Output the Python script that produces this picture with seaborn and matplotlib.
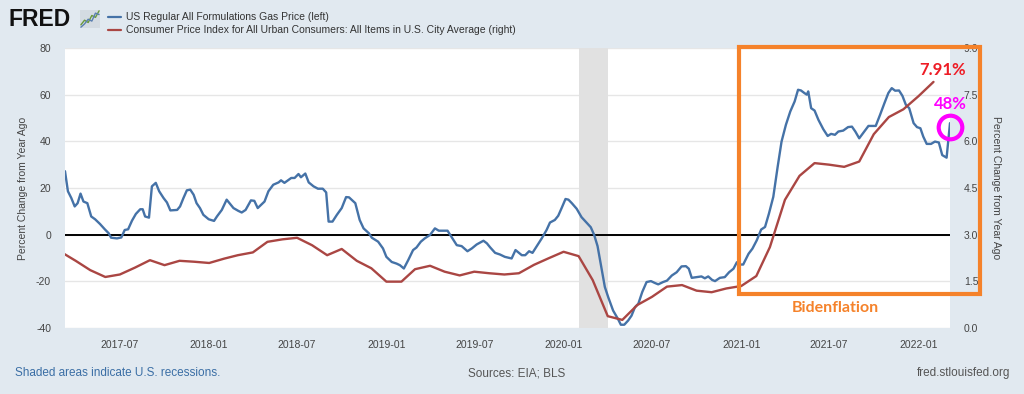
"""
FRED style chart: gas price vs CPI, percent change from year ago
"""

import matplotlib
matplotlib.use('Agg')
import matplotlib.pyplot as plt
import matplotlib.dates as mdates
from matplotlib.patches import Rectangle
import seaborn as sns
import pandas as pd

# US regular gas price, % change from year ago (left axis)
gas_dates = [
    '2017-03-10', '2017-03-16', '2017-03-23', '2017-03-30', '2017-04-05', '2017-04-11',
    '2017-04-17', '2017-04-25', '2017-05-03', '2017-05-11', '2017-05-21', '2017-05-31',
    '2017-06-08', '2017-06-13', '2017-06-25', '2017-07-04', '2017-07-11', '2017-07-18',
    '2017-07-26', '2017-08-03', '2017-08-12', '2017-08-17', '2017-08-22', '2017-08-30',
    '2017-09-05', '2017-09-13', '2017-09-20', '2017-09-29', '2017-10-06', '2017-10-13',
    '2017-10-27', '2017-11-02', '2017-11-09', '2017-11-16', '2017-11-23', '2017-11-30',
    '2017-12-06', '2017-12-13', '2017-12-20', '2017-12-31', '2018-01-11', '2018-01-17',
    '2018-01-27', '2018-02-06', '2018-02-20', '2018-03-02', '2018-03-09', '2018-03-17',
    '2018-03-28', '2018-04-04', '2018-04-11', '2018-04-25', '2018-05-03', '2018-05-13',
    '2018-05-24', '2018-05-29', '2018-06-05', '2018-06-19', '2018-06-26', '2018-07-04',
    '2018-07-09', '2018-07-18', '2018-07-25', '2018-08-04', '2018-08-13', '2018-08-23',
    '2018-08-30', '2018-09-04', '2018-09-12', '2018-09-21', '2018-10-01', '2018-10-10',
    '2018-10-16', '2018-10-29', '2018-11-07', '2018-11-15', '2018-11-26', '2018-12-02',
    '2018-12-15', '2018-12-25', '2019-01-01', '2019-01-12', '2019-01-22', '2019-01-29',
    '2019-02-06', '2019-02-15', '2019-02-25', '2019-03-04', '2019-03-13', '2019-03-21',
    '2019-04-01', '2019-04-11', '2019-04-19', '2019-04-28', '2019-05-07', '2019-05-17',
    '2019-05-26', '2019-06-05', '2019-06-17', '2019-06-26', '2019-07-06', '2019-07-20',
    '2019-07-27', '2019-08-03', '2019-08-13', '2019-08-23', '2019-09-02', '2019-09-16',
    '2019-09-24', '2019-10-07', '2019-10-14', '2019-10-22', '2019-10-29', '2019-11-07',
    '2019-11-17', '2019-11-27', '2019-12-04', '2019-12-14', '2019-12-21', '2019-12-28',
    '2020-01-05', '2020-01-11', '2020-01-18', '2020-01-28', '2020-02-07', '2020-02-17',
    '2020-02-26', '2020-03-04', '2020-03-11', '2020-03-20', '2020-03-26', '2020-04-02',
    '2020-04-12', '2020-04-22', '2020-04-28', '2020-05-05', '2020-05-13', '2020-05-20',
    '2020-05-27', '2020-06-03', '2020-06-11', '2020-06-20', '2020-06-29', '2020-07-07',
    '2020-07-14', '2020-07-24', '2020-08-01', '2020-08-11', '2020-08-21', '2020-08-31',
    '2020-09-09', '2020-09-15', '2020-09-21', '2020-10-01', '2020-10-11', '2020-10-18',
    '2020-10-25', '2020-11-02', '2020-11-08', '2020-11-18', '2020-11-28', '2020-12-07',
    '2020-12-16', '2020-12-23', '2020-12-30', '2021-01-05', '2021-01-16', '2021-01-24',
    '2021-02-02', '2021-02-11', '2021-02-19', '2021-02-27', '2021-03-08', '2021-03-17',
    '2021-03-25', '2021-04-03', '2021-04-12', '2021-04-21', '2021-04-28', '2021-05-04',
    '2021-05-11', '2021-05-16', '2021-05-19', '2021-05-25', '2021-06-01', '2021-06-09',
    '2021-06-19', '2021-06-28', '2021-07-05', '2021-07-13', '2021-07-20', '2021-07-30',
    '2021-08-09', '2021-08-17', '2021-08-24', '2021-09-01', '2021-09-10', '2021-09-20',
    '2021-09-28', '2021-10-05', '2021-10-14', '2021-10-23', '2021-10-31', '2021-11-07',
    '2021-11-14', '2021-11-22', '2021-11-29', '2021-12-06', '2021-12-13', '2021-12-22',
    '2021-12-29', '2022-01-05', '2022-01-11', '2022-01-18', '2022-01-27', '2022-02-04',
    '2022-02-12', '2022-02-19', '2022-02-28', '2022-03-07',
]
gas_pct = [
    27.2, 18.6, 15.7, 12.1, 13.5, 17.6,
    14.2, 13.5, 7.8, 6.6, 4.6, 2.3,
    0.6, -1.3, -1.6, -1.2, 2.0, 2.3,
    6.0, 8.9, 10.9, 10.9, 7.8, 7.3,
    20.7, 22.2, 18.6, 15.7, 13.8, 10.4,
    10.6, 12.1, 15.7, 19.0, 19.3, 17.1,
    13.5, 11.4, 8.5, 6.6, 5.9, 7.8,
    10.6, 15.0, 11.4, 10.2, 9.5, 10.6,
    14.7, 14.5, 11.4, 14.2, 18.6, 21.4,
    22.4, 23.3, 22.2, 24.3, 24.3, 26.0,
    24.6, 26.2, 22.4, 20.7, 19.7, 19.7,
    18.1, 5.6, 5.6, 8.5, 11.4, 16.1,
    16.0, 13.5, 6.3, 2.7, 0.6, -1.3,
    -3.0, -5.9, -9.5, -11.7, -12.4, -13.1,
    -14.5, -10.9, -6.6, -5.5, -3.0, -1.6,
    -0.1, 2.7, 1.7, 1.7, 1.7, -1.6,
    -4.5, -4.9, -7.1, -5.9, -4.2, -2.6,
    -3.7, -5.5, -7.8, -8.5, -9.5, -10.2,
    -6.6, -8.8, -8.8, -7.1, -7.8, -4.9,
    -1.6, 2.0, 5.2, 6.3, 8.1, 11.4,
    15.3, 15.0, 13.5, 11.1, 7.5, 5.2,
    3.2, -0.1, -4.9, -15.3, -22.4, -26.8,
    -32.5, -36.1, -38.6, -38.6, -36.8, -34.7,
    -31.1, -29.6, -24.6, -20.3, -19.9, -20.7,
    -21.3, -20.3, -19.7, -17.5, -16.1, -13.6,
    -13.5, -14.6, -18.5, -18.2, -17.9, -18.7,
    -17.9, -19.4, -19.9, -18.5, -18.2, -16.1,
    -14.6, -11.8, -12.8, -12.8, -8.2, -6.0,
    -2.4, 2.2, 3.3, 9.0, 16.2, 29.1,
    39.9, 47.1, 52.8, 57.1, 62.1, 61.8,
    60.7, 60.0, 61.4, 54.2, 53.2, 49.2,
    45.2, 42.3, 43.2, 42.8, 44.2, 44.6,
    46.1, 46.3, 44.2, 41.3, 43.8, 46.6,
    46.6, 46.6, 51.4, 56.4, 60.7, 62.8,
    61.7, 61.8, 59.5, 55.7, 54.2, 47.8,
    46.1, 45.6, 42.0, 38.9, 38.9, 39.9,
    39.5, 34.1, 33.0, 47.8,
]

# CPI all urban consumers, % change from year ago (right axis), monthly
cpi_months = pd.date_range('2017-03-01', '2022-02-01', freq='MS')
cpi_pct = [
    2.45, 2.16, 1.86, 1.64, 1.72, 1.94, 2.18, 2.02, 2.16, 2.13,
    2.09, 2.23, 2.34, 2.43, 2.77, 2.85, 2.90, 2.66, 2.34, 2.54, 2.16, 1.92,
    1.49, 1.49, 1.89, 2.00, 1.81, 1.69, 1.81, 1.76, 1.72, 1.76, 2.03, 2.24,
    2.45, 2.31, 1.54, 0.38, 0.26, 0.74, 1.00, 1.33, 1.38, 1.20, 1.15, 1.27,
    1.35, 1.67, 2.60, 4.12, 4.89, 5.30, 5.25, 5.18, 5.35, 6.23, 6.78, 7.03,
    7.45, 7.91,
]

recession = ('2020-02-01', '2020-04-01')
x_range = ('2017-03-10', '2022-03-07')
left_ticks = [-40, -20, 0, 20, 40, 60, 80]
right_ticks = [0.0, 1.5, 3.0, 4.5, 6.0, 7.5, 9.0]

legend_gas = 'US Regular All Formulations Gas Price (left)'
legend_cpi = 'Consumer Price Index for All Urban Consumers: All Items in U.S. City Average (right)'
axis_label = 'Percent Change from Year Ago'

BLUE = '#4572a7'
RED = '#aa4643'
BG = '#e1e9f0'
ORANGE = '#f5822a'
MAGENTA = '#ff00ff'
TXT = '#444444'

sns.set_style('white')
plt.rcParams['font.family'] = ['Liberation Sans', 'DejaVu Sans']
plt.rcParams['axes.unicode_minus'] = False

gas = pd.DataFrame({'date': pd.to_datetime(gas_dates), 'pct': gas_pct})
cpi = pd.DataFrame({'date': cpi_months, 'pct': cpi_pct})

fig = plt.figure(figsize=(10.24, 3.94), dpi=100, facecolor=BG)
ax = fig.add_axes([65 / 1024, 66 / 394, 885 / 1024, 280 / 394])
ax.set_facecolor('white')

ax.axvspan(pd.Timestamp(recession[0]), pd.Timestamp(recession[1]),
           color='#e1e1e1', zorder=0.6, lw=0)
ax.axhline(0, color='black', lw=1.4, zorder=1)
sns.lineplot(data=gas, x='date', y='pct', ax=ax, color=BLUE, lw=1.7, zorder=3)

ax2 = ax.twinx()
sns.lineplot(data=cpi, x='date', y='pct', ax=ax2, color=RED, lw=1.7, zorder=2)

ax.set_xlim(pd.Timestamp(x_range[0]), pd.Timestamp(x_range[1]))
ax.set_ylim(-40, 80)
ax2.set_ylim(0, 9)
ax.set_yticks(left_ticks)
ax2.set_yticks(right_ticks)
ax2.set_yticklabels([f'{t:.1f}' for t in right_ticks])

ax.xaxis.set_major_locator(mdates.MonthLocator(bymonth=[1, 7]))
ax.xaxis.set_major_formatter(mdates.DateFormatter('%Y-%m'))

ax.yaxis.grid(True, color='#e6e6e6', lw=1)
ax.set_axisbelow(True)
for a in (ax, ax2):
    for s in a.spines.values():
        s.set_visible(False)
ax.tick_params(axis='y', length=0, pad=10, labelsize=7.5, labelcolor=TXT)
ax2.tick_params(axis='y', length=0, pad=10, labelsize=7.5, labelcolor=TXT)
ax.tick_params(axis='x', length=6, width=0.8, color='#cdd5de', pad=3,
               labelsize=7.5, labelcolor=TXT)

ax.set_xlabel('')
ax.set_ylabel(axis_label, fontsize=7.5, color=TXT, labelpad=6)
ax2.set_ylabel(axis_label, fontsize=7.5, color=TXT, rotation=-90, labelpad=16)

# annotations drawn on top of the chart
ax2.annotate('7.91%', xy=(cpi['date'].iloc[-1], cpi['pct'].iloc[-1]),
             xytext=(9, 12), textcoords='offset pixels', ha='center', va='center',
             color='#ee1c25', fontsize=12, fontweight='bold',
             family=['Lato', 'DejaVu Sans'], annotation_clip=False)
ax.plot([gas['date'].iloc[-1]], [46], marker='o', ms=17, mfc='none',
        mec=MAGENTA, mew=3, clip_on=False, zorder=5)
ax.annotate('48%', xy=(gas['date'].iloc[-1], 46), xytext=(0, 23),
            textcoords='offset pixels', ha='center', va='center', color=MAGENTA,
            fontsize=12, fontweight='bold', family=['Lato', 'DejaVu Sans'],
            annotation_clip=False)

fig.patches.append(Rectangle((739 / 1024, 1 - 294 / 394), 241 / 1024, 247 / 394,
                             transform=fig.transFigure, fill=False,
                             ec=ORANGE, lw=3))
fig.text(835 / 1024, 1 - 308 / 394, 'Bidenflation', color=ORANGE, fontsize=11.5,
         fontweight='bold', ha='center', va='center', family=['Lato', 'DejaVu Sans'])

# header: logo and legend
fig.text(9 / 1024, 1 - 19 / 394, 'FRED', fontsize=16.5, fontweight='heavy',
         color='#111111', va='center', ha='left')
icon = fig.add_axes([80 / 1024, 1 - 28 / 394, 20 / 1024, 18 / 394])
icon.set_facecolor('#d4dbe2')
icon.plot([0, 1, 2, 3, 4, 5], [1, 2, 1.5, 3, 2.6, 4], color='#6a9a3a', lw=1)
icon.plot([0, 1, 2, 3, 4, 5], [0.5, 1.2, 2.2, 1.8, 3.5, 3.2], color='#5a7fb0', lw=1)
icon.set_xticks([])
icon.set_yticks([])
for s in icon.spines.values():
    s.set_visible(False)

fig.lines.append(plt.Line2D([108 / 1024, 121 / 1024], [1 - 17 / 394] * 2,
                            transform=fig.transFigure, color=BLUE, lw=1.6))
fig.lines.append(plt.Line2D([108 / 1024, 121 / 1024], [1 - 30 / 394] * 2,
                            transform=fig.transFigure, color=RED, lw=1.6))
fig.text(126 / 1024, 1 - 17 / 394, legend_gas, fontsize=7.5, color='#333333',
         va='center', ha='left')
fig.text(126 / 1024, 1 - 30 / 394, legend_cpi, fontsize=7.5, color='#333333',
         va='center', ha='left')

# footer
fig.text(15 / 1024, 1 - 373 / 394, 'Shaded areas indicate U.S. recessions.',
         fontsize=8.5, color='#3a6ea5', va='center', ha='left')
fig.text(517 / 1024, 1 - 373 / 394, 'Sources: EIA; BLS', fontsize=8.5,
         color='#555555', va='center', ha='center')
fig.text(1010 / 1024, 1 - 373 / 394, 'fred.stlouisfed.org', fontsize=8.5,
         color='#555555', va='center', ha='right')

fig.savefig('out.png', dpi=100, facecolor=BG)
